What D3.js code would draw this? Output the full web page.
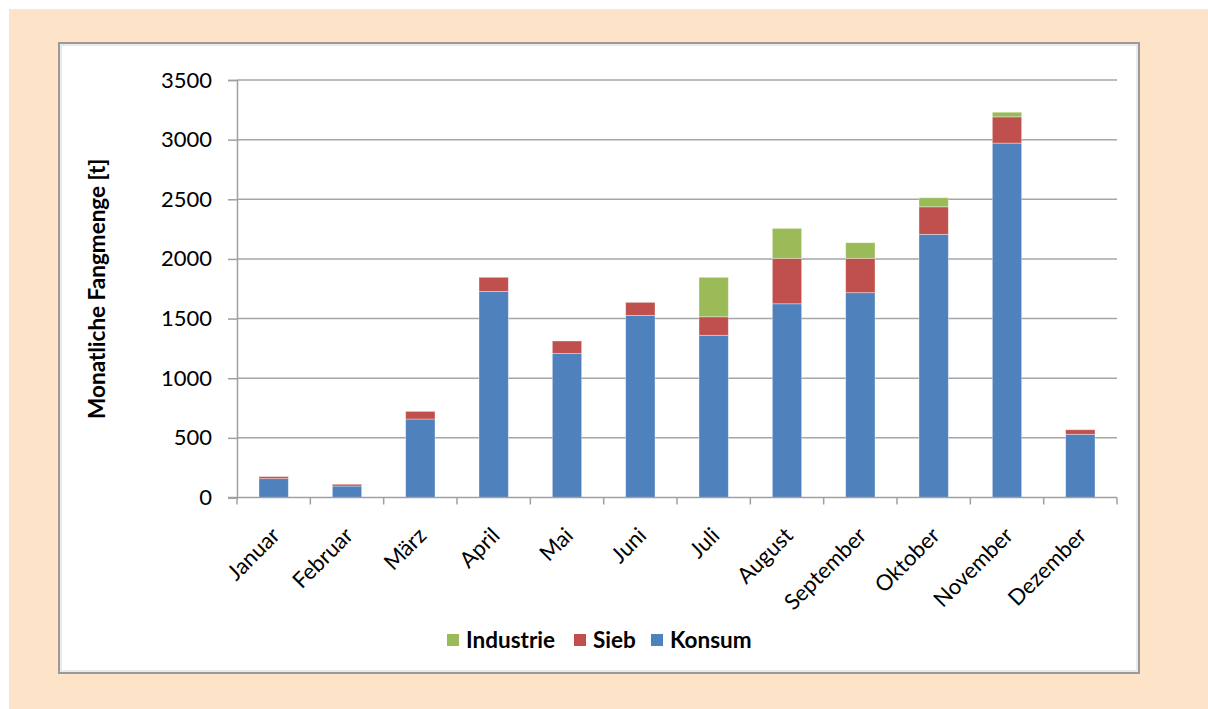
<!DOCTYPE html>
<html>
<head>
<meta charset="utf-8">
<script src="https://cdn.jsdelivr.net/npm/d3@7"></script>
<style>
  html, body { margin: 0; padding: 0; background: #ffffff; }
  svg { display: block; }
  text { font-family: Lato, "Open Sans", "Liberation Sans", sans-serif; fill: #000; }
</style>
</head>
<body>
<svg id="chart" width="1208" height="709"></svg>
<script>
// Monthly catch by use category (tonnes)
const months = ["Januar", "Februar", "März", "April", "Mai", "Juni", "Juli",
                "August", "September", "Oktober", "November", "Dezember"];
const konsum    = [158, 96, 658, 1728, 1207, 1527, 1360, 1624, 1717, 2206, 2971, 530];
const sieb      = [17, 15, 64, 118, 105, 109, 155, 381, 288, 231, 220, 38];
const industrie = [0, 0, 0, 0, 0, 0, 331, 251, 131, 76, 39, 0];

const seriesKeys   = ["Konsum", "Sieb", "Industrie"];
const seriesColors = ["#4F81BD", "#C0504D", "#9BBB59"];
const legendOrder  = ["Industrie", "Sieb", "Konsum"];
const yTicks = [0, 500, 1000, 1500, 2000, 2500, 3000, 3500];
const yTitle = "Monatliche Fangmenge [t]";

const rows = months.map((m, i) => ({
  month: m, Konsum: konsum[i], Sieb: sieb[i], Industrie: industrie[i]
}));

const svg = d3.select("#chart");

// page frame
svg.append("rect").attr("x", 9).attr("y", 9).attr("width", 1199).attr("height", 700)
  .attr("fill", "#FDE4C9");
svg.append("rect").attr("x", 59).attr("y", 43).attr("width", 1080).attr("height", 630)
  .attr("fill", "#ffffff").attr("stroke", "#9a9a9a").attr("stroke-width", 2);
svg.append("rect").attr("x", 61).attr("y", 45).attr("width", 1076).attr("height", 626)
  .attr("fill", "none").attr("stroke", "#d6d6d6").attr("stroke-width", 1);

const plot = { left: 237, right: 1117, top: 80, bottom: 497.5 };

const x = d3.scaleBand().domain(months).range([plot.left, plot.right])
  .paddingInner(0.6).paddingOuter(0.3);
const xTick = d3.scaleBand().domain(months).range([plot.left, plot.right]);
const y = d3.scaleLinear().domain([0, 3500]).range([plot.bottom, plot.top]);

// gridlines
svg.append("g").selectAll("line").data(yTicks.filter(t => t > 0)).join("line")
  .attr("x1", plot.left).attr("x2", plot.right)
  .attr("y1", d => y(d)).attr("y2", d => y(d))
  .attr("stroke", "#a6a6a6").attr("stroke-width", 1.5);

// stacked bars
const stack = d3.stack().keys(seriesKeys)(rows);
svg.append("g").selectAll("g").data(stack).join("g")
  .attr("fill", (d, i) => seriesColors[i])
  .selectAll("rect").data(d => d.filter(p => p[1] - p[0] > 0)).join("rect")
  .attr("x", d => x(d.data.month))
  .attr("width", x.bandwidth())
  .attr("y", d => y(d[1]))
  .attr("height", d => y(d[0]) - y(d[1]))
  .attr("stroke", "rgba(255,255,255,0.45)").attr("stroke-width", 0.8);

// y axis
const yAxis = svg.append("g").attr("transform", `translate(${plot.left},0)`)
  .call(d3.axisLeft(y).tickValues(yTicks).tickSize(9).tickPadding(16).tickFormat(d3.format("d")));
yAxis.select(".domain").attr("stroke", "#a0a0a0").attr("stroke-width", 1.5);
yAxis.selectAll(".tick line").attr("stroke", "#a0a0a0").attr("stroke-width", 1.5);
yAxis.selectAll(".tick text").style("font-size", "22px")
  .style("font-family", "Lato, sans-serif").attr("fill", "#000");

// x axis: baseline and ticks at category boundaries
svg.append("line").attr("x1", plot.left - 9).attr("x2", plot.right)
  .attr("y1", plot.bottom).attr("y2", plot.bottom)
  .attr("stroke", "#a0a0a0").attr("stroke-width", 1.5);
const bounds = months.map(m => xTick(m)).concat([plot.right]);
svg.append("g").selectAll("line").data(bounds).join("line")
  .attr("x1", d => d).attr("x2", d => d)
  .attr("y1", plot.bottom).attr("y2", plot.bottom + 7)
  .attr("stroke", "#a0a0a0").attr("stroke-width", 1.5);

// month labels, rotated
svg.append("g").selectAll("text").data(months).join("text")
  .attr("transform", d => `translate(${xTick(d) + xTick.bandwidth() / 2 + 2},${plot.bottom + 34}) rotate(-45)`)
  .attr("text-anchor", "end")
  .attr("dy", "0.35em")
  .style("font-size", "22px")
  .text(d => d);

// y axis title
svg.append("text")
  .attr("transform", `translate(97,${(plot.top + plot.bottom) / 2}) rotate(-90)`)
  .attr("text-anchor", "middle").attr("dy", "0.35em")
  .style("font-size", "22.5px").style("font-weight", "bold")
  .text(yTitle);

// legend
const legendX = [447, 574, 651];
const legend = svg.append("g").selectAll("g").data(legendOrder).join("g")
  .attr("transform", (d, i) => `translate(${legendX[i]},640)`);
legend.append("rect").attr("x", 0).attr("y", -6).attr("width", 12).attr("height", 12)
  .attr("fill", d => seriesColors[seriesKeys.indexOf(d)]);
legend.append("text").attr("x", 19).attr("y", 0).attr("dy", "0.36em")
  .style("font-size", "22.5px").style("font-weight", "bold").text(d => d);
</script>
</body>
</html>
